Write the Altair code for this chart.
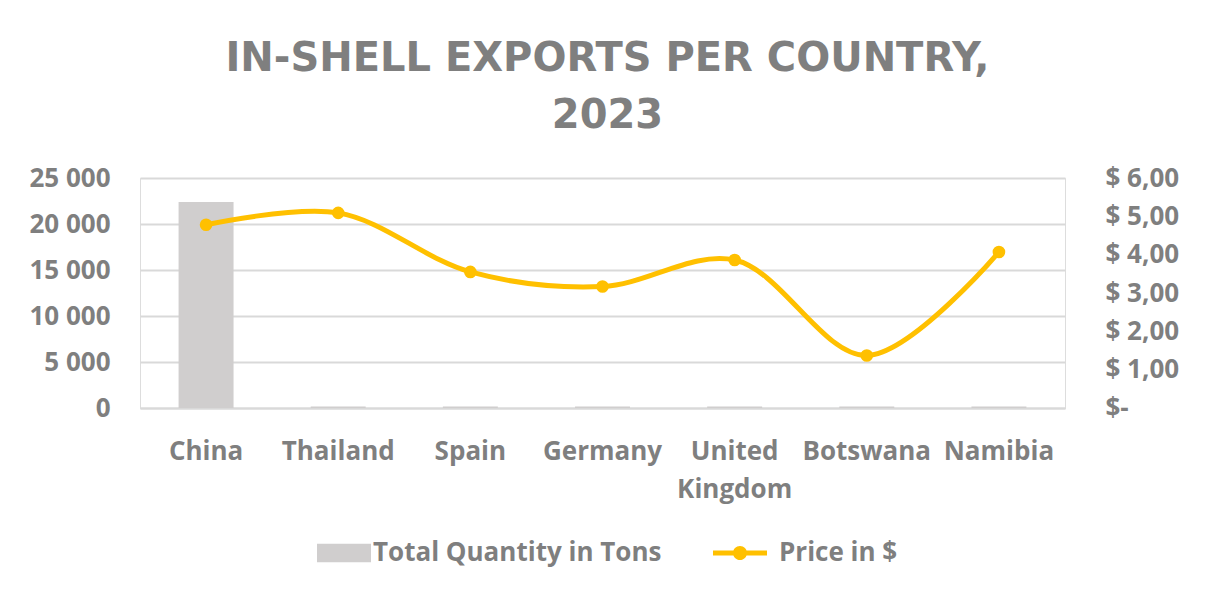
import altair as alt
import pandas as pd

countries = ["China", "Thailand", "Spain", "Germany", "United Kingdom", "Botswana", "Namibia"]
tons = [22400, 150, 150, 150, 150, 150, 150]
price = [4.78, 5.09, 3.55, 3.17, 3.86, 1.37, 4.07]

QS = "Total Quantity in Tons"
PS = "Price in $"

df = pd.DataFrame({"country": countries, "tons": tons, "price": price,
                   "qs": [QS] * len(countries), "ps": [PS] * len(countries)})

GRAY = "#7f7f7f"
FONT = "Open Sans"

x = alt.X("country:N", sort=countries, title=None,
          scale=alt.Scale(paddingInner=0.584, paddingOuter=0.292),
          axis=alt.Axis(labelAngle=0, labelFontSize=26, labelFont=FONT, labelFontWeight="bold",
                        labelColor=GRAY, labelPadding=30, ticks=False, domainColor="#d9d9d9",
                        domainWidth=2, labelLineHeight=38,
                        labelExpr="datum.label == 'United Kingdom' ? ['United', 'Kingdom'] : datum.label"))

bars = alt.Chart(df).mark_bar(color="#d0cece").encode(
    x=x,
    y=alt.Y("tons:Q", title=None,
            scale=alt.Scale(domain=[0, 25000], nice=False),
            axis=alt.Axis(values=[0, 5000, 10000, 15000, 20000, 25000], labelFontSize=26,
                          labelFont=FONT, labelFontWeight="bold", labelColor=GRAY,
                          labelPadding=30, ticks=False, domain=False, grid=True,
                          gridColor="#d9d9d9", gridWidth=2,
                          labelExpr="replace(format(datum.value, ','), ',', ' ')")),
    color=alt.Color("qs:N", scale=alt.Scale(domain=[QS], range=["#d0cece"]),
                    legend=alt.Legend(title=None, orient="none", legendX=177, legendY=348,
                                      symbolType="M-1,-0.34H1V0.34H-1Z", symbolSize=2916,
                                      symbolStrokeWidth=0, labelOffset=2, labelLimit=0,
                                      labelFontSize=26, labelFont=FONT, labelFontWeight="bold",
                                      labelColor=GRAY)),
)

yp = alt.Y("price:Q", title=None,
           scale=alt.Scale(domain=[0, 6], nice=False),
           axis=alt.Axis(orient="right", values=[0, 1, 2, 3, 4, 5, 6], labelFontSize=26,
                         labelFont=FONT, labelFontWeight="bold", labelColor=GRAY,
                         labelPadding=40, ticks=False, domain=False, grid=False,
                         labelExpr="datum.value == 0 ? '$-' : '$ ' + replace(format(datum.value, '.2f'), '.', ',')"))

line = alt.Chart(df).mark_line(color="#ffc000", strokeWidth=5, interpolate="catmull-rom").encode(
    x=x, y=yp)

points = alt.Chart(df).mark_circle(opacity=1, size=160).encode(
    x=x, y=yp,
    color=alt.Color("ps:N", scale=alt.Scale(domain=[PS], range=["#ffc000"]),
                    legend=alt.Legend(title=None, orient="none", legendX=573, legendY=348,
                                      symbolType="M-1,-0.09H1V0.09H-1Z M0.26,0A0.26,0.26,0,1,1,-0.26,0A0.26,0.26,0,1,1,0.26,0Z",
                                      symbolSize=2916, symbolStrokeWidth=0, symbolFillColor="#ffc000",
                                      labelOffset=12, labelLimit=0,
                                      labelFontSize=26, labelFont=FONT, labelFontWeight="bold",
                                      labelColor=GRAY)),
)

right = alt.layer(line, points)

chart = alt.layer(bars, right).resolve_scale(y="independent", color="independent").properties(
    width=925, height=230,
    title=alt.TitleParams(text=["IN-SHELL EXPORTS PER COUNTRY,", "2023"], fontSize=40,
                          font="DejaVu Sans", fontWeight="bold", color=GRAY, lineHeight=57,
                          anchor="middle", offset=29, dx=5),
    autosize=alt.AutoSizeParams(type="none"),
    padding={"left": 132, "top": 170, "right": 135, "bottom": 178},
).configure_view(stroke=None).configure(background="white")

chart.save("out.html", embed_options={"renderer": "svg", "actions": False})
